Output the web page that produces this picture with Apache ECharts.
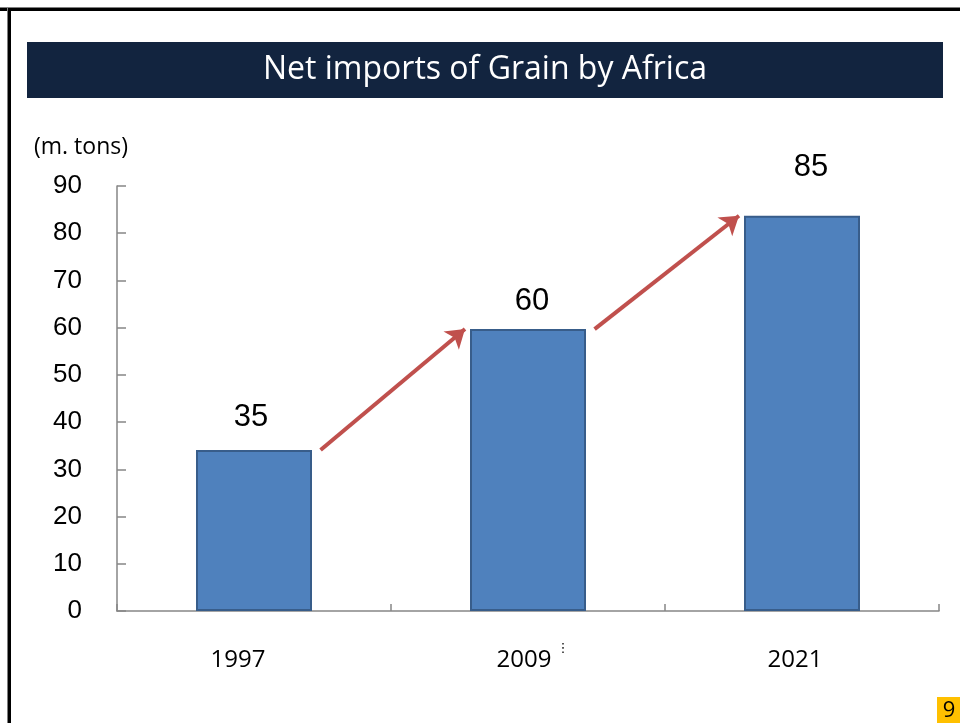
<!DOCTYPE html>
<html>
<head>
<meta charset="utf-8">
<script src="https://cdn.jsdelivr.net/npm/echarts@6/dist/echarts.min.js"></script>
<style>html,body{margin:0;padding:0;background:#fff;}#c{width:960px;height:723px;}</style>
</head>
<body>
<div id="c"></div>
<script>
var titleText = 'Net imports of Grain by Africa';
var unitText = '(m. tons)';
var categories = ['1997', '2009', '2021'];
var values = [34.1, 59.7, 83.7];
var labelTexts = ['35', '60', '85'];
var yMin = 0, yMax = 90, yStep = 10;
var pageNumber = '9';

// presentation tweaks (not data)
var catLabelShift = [32, 8, 14];
var valueLabelOffset = [[-3, -17], [4, -12], [9, -33]];

var chart = echarts.init(document.getElementById('c'), null, {renderer: 'canvas'});

var arrows = [];
for (var i = 0; i < values.length - 1; i++) {
  arrows.push({coords: [[i + 0.743, values[i]], [i + 1.27, values[i + 1]]]});
}

var option = {
  animation: false,
  backgroundColor: '#ffffff',
  grid: {left: 117, right: 21, top: 186, bottom: 112, containLabel: false},
  xAxis: [{
    type: 'category',
    data: categories.map(function (c, i) {
      return {value: c, textStyle: {padding: [0, catLabelShift[i], 0, 0]}};
    }),
    boundaryGap: true,
    axisLine: {lineStyle: {color: '#868686', width: 1.5}},
    axisTick: {show: true, inside: true, length: 7, lineStyle: {color: '#868686', width: 1.5}},
    axisLabel: {color: '#000', fontFamily: 'Open Sans', fontSize: 24, margin: 37}
  }, {
    type: 'value', min: 0, max: categories.length, show: false
  }],
  yAxis: [{
    type: 'value', min: yMin, max: yMax, interval: yStep,
    axisLine: {show: true, lineStyle: {color: '#868686', width: 1.5}},
    axisTick: {show: true, inside: true, length: 9, lineStyle: {color: '#868686', width: 1.5}},
    splitLine: {show: false},
    axisLabel: {color: '#000', fontFamily: 'Liberation Sans', fontSize: 26, margin: 35}
  }],
  series: [{
    type: 'bar',
    xAxisIndex: 0, yAxisIndex: 0,
    barWidth: 116,
    data: values.map(function (v, i) {
      return {value: v, label: {offset: valueLabelOffset[i]}};
    }),
    itemStyle: {color: '#4F81BD', borderColor: '#385D8A', borderWidth: 2},
    label: {
      show: true, position: 'top', distance: 0,
      fontFamily: 'Liberation Sans', fontSize: 31, color: '#000',
      formatter: function (p) { return labelTexts[p.dataIndex]; }
    }
  }, {
    type: 'lines',
    coordinateSystem: 'cartesian2d',
    xAxisIndex: 1, yAxisIndex: 0,
    symbol: ['none', 'arrow'],
    symbolSize: 18,
    lineStyle: {color: '#C0504D', width: 4, opacity: 1, curveness: 0},
    data: arrows,
    z: 5
  }],
  graphic: [
    {type: 'rect', shape: {x: 0, y: 7, width: 960, height: 1}, style: {fill: '#7f7f7f'}, silent: true},
    {type: 'rect', shape: {x: 0, y: 8, width: 960, height: 3}, style: {fill: '#000'}, silent: true},
    {type: 'rect', shape: {x: 7, y: 7, width: 1, height: 716}, style: {fill: '#7f7f7f'}, silent: true},
    {type: 'rect', shape: {x: 8, y: 8, width: 3, height: 715}, style: {fill: '#000'}, silent: true},
    {type: 'rect', shape: {x: 27, y: 42, width: 916, height: 56}, style: {fill: '#12243F'}, silent: true},
    {type: 'text', x: 485, y: 70, style: {text: titleText, fill: '#fff', font: '32px "Open Sans"', align: 'center', verticalAlign: 'middle'}, silent: true},
    {type: 'text', x: 34, y: 147, style: {text: unitText, fill: '#000', font: '23px "Open Sans"', align: 'left', verticalAlign: 'middle'}, silent: true},
    {type: 'text', x: 563, y: 649, style: {text: '\u22ee', fill: '#000', font: '13px "DejaVu Sans"', align: 'center', verticalAlign: 'middle'}, silent: true},
    {type: 'rect', shape: {x: 937, y: 697, width: 23, height: 26}, style: {fill: '#FFC000'}, silent: true},
    {type: 'text', x: 949, y: 711, style: {text: pageNumber, fill: '#000', font: '22px "Open Sans"', align: 'center', verticalAlign: 'middle'}, silent: true}
  ]
};
chart.setOption(option);
</script>
</body>
</html>
